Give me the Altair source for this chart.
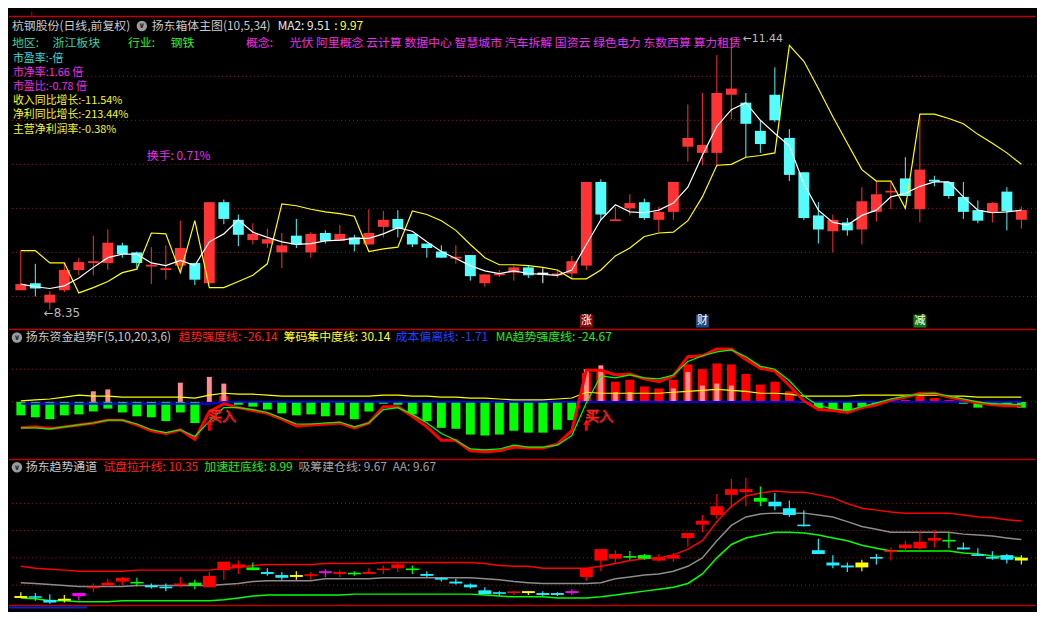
import altair as alt
import pandas as pd

FONT = "Noto Sans CJK SC"
W = 1036
H1, H2, H3 = 320, 127, 151
F1, F2, F3 = H1 / 331, H2 / 131, H3 / 157
STEP = 14.77
XDOM = [-0.474, -0.474 + W / STEP]

# ---------------- data : top panel (price) ----------------
idx = list(range(70))
top_open = [8.57, 8.65, 8.43, 8.57, 8.80, 8.88, 8.88, 9.08, 9.00, 8.84,
            8.80, 8.85, 8.88, 8.65, 9.57, 9.37, 9.14, 9.10, 9.00, 9.19,
            9.00, 9.22, 9.13, 9.17, 9.09, 9.29, 9.38, 9.21, 9.10, 9.01,
            8.93, 8.97, 8.65, 8.74, 8.77, 8.83, 8.76, 8.74, 8.76, 8.85,
            9.80, 9.36, 9.50, 9.57, 9.37, 9.46, 10.20, 10.13, 10.13, 10.79,
            10.70, 10.38, 10.79, 10.30, 9.91, 9.42, 9.24, 9.34, 9.26, 9.46,
            9.68, 9.84, 9.49, 9.82, 9.80, 9.63, 9.48, 9.45, 9.69, 9.37]
top_close = [8.64, 8.59, 8.52, 8.80, 8.89, 8.90, 9.11, 8.98, 8.88, 8.86,
             8.82, 9.05, 8.69, 9.57, 9.38, 9.20, 9.21, 9.15, 9.08, 9.09,
             9.21, 9.13, 9.21, 9.09, 9.22, 9.37, 9.27, 9.09, 9.05, 8.94,
             8.95, 8.73, 8.75, 8.76, 8.83, 8.74, 8.76, 8.76, 8.90, 9.80,
             9.43, 9.37, 9.56, 9.39, 9.46, 9.80, 10.30, 10.22, 10.81, 10.86,
             10.46, 10.23, 10.50, 9.88, 9.39, 9.26, 9.37, 9.25, 9.58, 9.66,
             9.70, 9.64, 9.94, 9.81, 9.64, 9.46, 9.36, 9.56, 9.47, 9.48]
top_high = [9.02, 8.87, 8.56, 8.87, 8.94, 9.19, 9.26, 9.11, 9.01, 9.06,
            9.08, 9.36, 8.88, 9.57, 9.60, 9.43, 9.33, 9.27, 9.22, 9.38,
            9.23, 9.25, 9.31, 9.20, 9.49, 9.47, 9.48, 9.21, 9.10, 9.08,
            9.08, 8.97, 8.75, 8.80, 8.85, 8.85, 8.82, 8.80, 8.96, 9.80,
            9.83, 9.52, 9.66, 9.61, 9.52, 9.80, 10.68, 10.81, 11.24, 11.44,
            10.81, 10.50, 11.10, 10.40, 9.91, 9.57, 9.43, 9.39, 9.74, 9.81,
            9.81, 10.08, 10.54, 9.87, 9.80, 9.80, 9.59, 9.57, 9.74, 9.52]
top_low = [8.57, 8.50, 8.35, 8.55, 8.74, 8.74, 8.80, 8.94, 8.82, 8.64,
           8.69, 8.80, 8.63, 8.65, 9.32, 9.07, 9.09, 9.05, 8.82, 9.05,
           8.94, 9.10, 9.13, 9.01, 9.09, 9.17, 9.17, 9.06, 8.94, 8.94,
           8.87, 8.68, 8.61, 8.72, 8.68, 8.71, 8.65, 8.71, 8.71, 8.80,
           9.37, 9.36, 9.42, 9.37, 9.23, 9.37, 10.03, 9.99, 9.99, 10.51,
           10.08, 10.13, 10.48, 9.81, 9.37, 9.10, 9.00, 9.19, 9.09, 9.35,
           9.49, 9.64, 9.34, 9.75, 9.61, 9.38, 9.33, 9.34, 9.25, 9.27]
top_ma = [8.64, 8.61, 8.59, 8.62, 8.71, 8.83, 8.94, 8.98, 8.98, 8.88,
          8.85, 8.91, 8.85, 9.12, 9.21, 9.37, 9.23, 9.17, 9.12, 9.09,
          9.10, 9.13, 9.14, 9.16, 9.16, 9.21, 9.28, 9.24, 9.12, 9.01,
          8.93, 8.85, 8.79, 8.76, 8.79, 8.76, 8.75, 8.74, 8.80, 9.09,
          9.37, 9.54, 9.46, 9.45, 9.48, 9.56, 9.74, 10.10, 10.43, 10.62,
          10.70, 10.50, 10.35, 10.21, 9.78, 9.48, 9.34, 9.31, 9.42, 9.48,
          9.63, 9.67, 9.75, 9.80, 9.80, 9.63, 9.48, 9.45, 9.46, 9.48]
top_box = [9.02, 9.02, 8.88, 8.88, 8.54, 8.60, 8.67, 8.77, 8.81, 9.22,
           9.21, 8.77, 9.36, 8.60, 8.60, 8.67, 8.74, 8.87, 9.55, 9.53,
           9.49, 9.46, 9.44, 9.41, 9.01, 9.04, 9.06, 9.47, 9.43, 9.36,
           9.25, 9.09, 8.94, 8.86, 8.86, 8.85, 8.83, 8.80, 8.70, 8.70,
           8.80, 8.96, 9.05, 9.18, 9.22, 9.23, 9.36, 9.63, 9.99, 10.00,
           10.08, 10.10, 10.13, 11.35, 11.17, 10.86, 10.54, 10.24, 9.94, 9.81,
           9.81, 9.50, 10.57, 10.57, 10.52, 10.46, 10.34, 10.24, 10.13, 10.00]
top_grid = [8.5, 9.0, 9.5, 10.0, 10.5, 11.0]
signal_idx = [39, 47, 62]
signal_txt = ["涨", "财", "减"]
signal_fill = ["#8A0A0A", "#1B4A80", "#0E7A12"]

# ---------------- data : middle panel (fund trend) ----------------
mid_hist = [-14, -16, -18, -14, -13, -10, -7, -11, -15, -16,
            -20, -11, -22, 0, 6, -3, -5, -8, -12, -14,
            -13, -15, -14, -18, -10, -2, -3, -13, -20, -27,
            -28, -34, -35, -34, -30, -32, -32, -29, -19, 30,
            33, 21, 23, 16, 14, 23, 39, 34, 40, 39,
            29, 18, 21, 11, -1, -7, -9, -10, -5, -3,
            1, 2, 7, 4, 2, -2, -6, -3, -3, -6]
mid_pink = [None, None, None, None, None, 11, 13, None, None, None,
            None, 20, None, 26, 19, None, None, None, None, None,
            None, None, None, None, None, None, None, None, None, None,
            None, None, None, None, None, None, None, None, None, 34,
            38, 10, 10, None, None, 14, 31, 17, 19, 17,
            None, None, None, None, None, None, None, None, None, None,
            None, None, None, None, None, None, None, None, None, None]
mid_trend = [-27, -26, -28, -26, -24, -22, -19, -19, -24, -30,
             -33, -29, -39, -10, -2, -6, -9, -12, -18, -25,
             -24, -23, -22, -27, -22, -5, -5, -15, -26, -40,
             -40, -51, -52, -51, -47, -48, -48, -44, -30, 33,
             33, 28, 29, 24, 21, 27, 47, 48, 55, 55,
             44, 35, 32, 17, 1, -8, -9, -11, -6, -3,
             2, 5, 9, 9, 5, 2, -1, -3, -4, -4]
mid_ma_trend = [-27, -27, -28, -26, -24, -22, -19, -19, -23, -29,
                -32, -29, -36, -20, -6, -6, -8, -11, -17, -23,
                -23, -22, -21, -26, -22, -8, -6, -13, -22, -33,
                -40, -49, -50, -49, -45, -47, -47, -45, -35, -1,
                27, 25, 28, 25, 24, 28, 42, 48, 52, 54,
                47, 37, 34, 22, 6, -4, -7, -9, -5, -1,
                3, 6, 8, 9, 6, 3, 0, -2, -2, -3]
mid_chip = [1, 2, 3, 5, 7, 6, 6, 5, 5, 5,
            5, 5, 4, 7, 9, 8, 8, 7, 6, 6,
            6, 6, 6, 6, 6, 7, 7, 6, 6, 5,
            5, 4, 4, 3, 2, 2, 2, 3, 4, 10,
            9, 9, 9, 9, 9, 10, 11, 12, 13, 12,
            11, 9, 9, 8, 6, 6, 6, 6, 7, 7,
            7, 7, 7, 7, 6, 6, 5, 5, 5, 5]
mid_cost = [-2] * 14 + [0] * 56
mid_grid = [0, 34]
buy_idx = [13, 39]

# ---------------- data : bottom panel (trend channel) ----------------
bot_open = [7.53, 7.58, 7.46, 7.43, 7.60, 7.90, 7.99, 8.13, 8.08, 7.99,
            7.93, 7.99, 7.99, 7.92, 8.55, 8.65, 8.55, 8.48, 8.37, 8.30,
            8.36, 8.44, 8.41, 8.41, 8.41, 8.57, 8.62, 8.57, 8.41, 8.24,
            8.13, 8.02, 7.81, 7.72, 7.73, 7.71, 7.71, 7.71, 7.71, 8.30,
            8.90, 8.97, 9.02, 8.97, 8.90, 8.97, 9.73, 10.22, 10.57, 11.31,
            11.41, 11.06, 11.06, 10.82, 10.20, 9.28, 8.83, 8.72, 8.65, 9.01,
            9.23, 9.35, 9.35, 9.63, 9.62, 9.38, 9.11, 9.03, 9.10, 8.90]
bot_close = [7.60, 7.55, 7.36, 7.50, 7.71, 7.93, 8.09, 8.27, 8.10, 7.92,
             7.90, 8.06, 8.09, 8.34, 8.86, 8.76, 8.65, 8.41, 8.27, 8.37,
             8.38, 8.51, 8.48, 8.44, 8.48, 8.59, 8.76, 8.59, 8.34, 8.22,
             8.06, 7.92, 7.67, 7.70, 7.75, 7.78, 7.64, 7.64, 7.78, 8.62,
             9.32, 9.14, 9.05, 9.10, 9.03, 9.10, 9.91, 10.36, 10.89, 11.52,
             11.52, 11.20, 10.89, 10.57, 10.18, 9.14, 8.72, 8.65, 8.83, 8.99,
             9.25, 9.49, 9.59, 9.73, 9.64, 9.31, 9.09, 8.97, 8.93, 9.00]
bot_high = [7.74, 7.71, 7.67, 7.64, 7.71, 8.06, 8.23, 8.30, 8.27, 8.06,
            8.06, 8.30, 8.20, 8.48, 8.86, 8.90, 8.83, 8.62, 8.48, 8.51,
            8.48, 8.58, 8.55, 8.51, 8.62, 8.72, 8.79, 8.72, 8.51, 8.30,
            8.23, 8.06, 7.92, 7.78, 7.78, 7.78, 7.78, 7.74, 7.85, 8.62,
            9.32, 9.28, 9.25, 9.14, 9.14, 9.18, 9.91, 10.57, 11.34, 11.90,
            11.94, 11.62, 11.38, 11.10, 10.75, 9.70, 9.10, 8.83, 8.93, 9.14,
            9.38, 9.63, 9.98, 10.01, 9.94, 9.56, 9.35, 9.24, 9.14, 9.10]
bot_low = [7.53, 7.43, 7.32, 7.36, 7.43, 7.74, 7.95, 7.99, 7.95, 7.88,
           7.78, 7.92, 7.85, 7.92, 8.20, 8.41, 8.55, 8.34, 8.20, 8.20,
           8.20, 8.30, 8.30, 8.34, 8.41, 8.41, 8.48, 8.41, 8.30, 8.13,
           8.02, 7.88, 7.67, 7.60, 7.64, 7.64, 7.60, 7.60, 7.64, 8.16,
           8.51, 8.79, 8.93, 8.93, 8.86, 8.86, 9.42, 9.94, 10.43, 10.85,
           10.89, 10.89, 10.75, 10.50, 10.15, 9.14, 8.62, 8.48, 8.51, 8.76,
           8.90, 9.24, 9.31, 9.38, 9.35, 9.31, 9.07, 8.93, 8.79, 8.76]
bot_kind = list("YCCYMRRRGCCRGRRRGCCYRMRGRRRGCCCCCCRYCCMRRRGGRRRRRRRGCCCCCCYCRRRRGCCCCY")
bot_up = [8.69, 8.62, 8.58, 8.55, 8.51, 8.51, 8.51, 8.51, 8.55, 8.55,
          8.55, 8.55, 8.55, 8.55, 8.62, 8.65, 8.72, 8.76, 8.76, 8.76,
          8.76, 8.79, 8.79, 8.79, 8.79, 8.83, 8.83, 8.83, 8.83, 8.83,
          8.83, 8.83, 8.79, 8.72, 8.69, 8.69, 8.62, 8.62, 8.62, 8.62,
          8.69, 8.79, 8.90, 8.97, 9.00, 9.11, 9.32, 9.63, 10.33, 10.89,
          11.27, 11.38, 11.45, 11.41, 11.41, 11.31, 11.20, 10.99, 10.82, 10.75,
          10.68, 10.64, 10.64, 10.64, 10.64, 10.57, 10.50, 10.47, 10.40, 10.35]
bot_mid = [8.09, 8.06, 8.02, 7.99, 7.95, 7.95, 7.95, 7.95, 7.99, 7.99,
           7.99, 7.99, 7.99, 7.99, 8.02, 8.06, 8.13, 8.16, 8.16, 8.16,
           8.16, 8.23, 8.23, 8.23, 8.23, 8.27, 8.27, 8.27, 8.27, 8.27,
           8.27, 8.27, 8.23, 8.20, 8.13, 8.09, 8.06, 8.06, 8.06, 8.06,
           8.09, 8.23, 8.30, 8.37, 8.41, 8.51, 8.69, 9.00, 9.63, 10.19,
           10.50, 10.61, 10.64, 10.64, 10.64, 10.57, 10.50, 10.33, 10.15, 10.05,
           9.94, 9.94, 9.94, 9.94, 9.94, 9.87, 9.84, 9.80, 9.73, 9.67]
bot_dn = [7.53, 7.50, 7.43, 7.43, 7.39, 7.39, 7.39, 7.43, 7.43, 7.43,
          7.43, 7.43, 7.43, 7.43, 7.46, 7.53, 7.60, 7.64, 7.64, 7.64,
          7.64, 7.64, 7.64, 7.67, 7.67, 7.67, 7.67, 7.67, 7.67, 7.67,
          7.67, 7.67, 7.64, 7.60, 7.57, 7.57, 7.57, 7.53, 7.53, 7.53,
          7.57, 7.64, 7.71, 7.78, 7.85, 7.92, 8.06, 8.41, 9.00, 9.49,
          9.73, 9.84, 9.94, 9.94, 9.91, 9.84, 9.73, 9.63, 9.46, 9.35,
          9.25, 9.25, 9.25, 9.25, 9.25, 9.18, 9.14, 9.07, 9.04, 9.00]
bot_grid = [8.0, 9.0, 10.0, 11.0]

# ---------------- helpers ----------------
ONE = pd.DataFrame({"a": [0]})
GRID_COL = "#9A1A1A"
BORDER = "#C00000"


def xenc():
    return alt.X("i:Q", scale=alt.Scale(domain=XDOM, nice=False, zero=False), axis=None)


def yenc(field, dom):
    return alt.Y(field, type="quantitative",
                 scale=alt.Scale(domain=dom, nice=False, zero=False), axis=None)


def y2enc(field):
    return alt.Y2(field)


def label(text, x, y, color, size=12, align="left", font=FONT, weight="normal"):
    return alt.Chart(ONE).mark_text(
        text=text, align=align, baseline="middle", font=font, fontSize=size,
        color=color, fontWeight=weight
    ).encode(x=alt.value(x), y=alt.value(y))


def hline(y, x1, x2, color, width=1.0, dash=None):
    kw = {"color": color, "strokeWidth": width}
    if dash:
        kw["strokeDash"] = dash
    return alt.Chart(ONE).mark_rule(**kw).encode(
        x=alt.value(x1), x2=alt.value(x2), y=alt.value(y))


def icon(x, y):
    c = alt.Chart(ONE).mark_point(filled=True, shape="circle", size=110,
                                  color="#9C9C9C", opacity=1).encode(
        x=alt.value(x), y=alt.value(y))
    v = label("∨", x, y + 0.5, "#2A2A2A", size=8, align="center",
              font="DejaVu Sans", weight="bold")
    return [c, v]


def bodies(o, c, minh):
    lo, hi = [], []
    for a, b in zip(o, c):
        l, h = min(a, b), max(a, b)
        if h - l < minh:
            m = (h + l) / 2
            l, h = m - minh / 2, m + minh / 2
        lo.append(l)
        hi.append(h)
    return lo, hi


# ---------------- top panel ----------------
TDOM = [8.132, 11.734]
tdf = pd.DataFrame({"i": idx, "o": top_open, "c": top_close,
                    "h": top_high, "l": top_low, "ma": top_ma, "box": top_box})
tdf["col"] = ["#FF3333" if c > o else ("#54FCFC" if c < o else "#FFFFFF")
              for o, c in zip(top_open, top_close)]
tdf["b0"], tdf["b1"] = bodies(top_open, top_close, 0.02)

tgrid = alt.Chart(pd.DataFrame({"p": top_grid})).mark_rule(
    color=GRID_COL, strokeDash=[1, 3], strokeWidth=1).encode(y=yenc("p", TDOM))
twick = alt.Chart(tdf).mark_rule(strokeWidth=1).encode(
    x=xenc(), y=yenc("l", TDOM), y2=y2enc("h"), color=alt.Color("col:N", scale=None))
tbody = alt.Chart(tdf).mark_bar(width=11).encode(
    x=xenc(), y=yenc("b0", TDOM), y2=y2enc("b1"), color=alt.Color("col:N", scale=None))
tbox = alt.Chart(tdf).mark_line(color="#FFFF00", strokeWidth=1.2).encode(
    x=xenc(), y=yenc("box", TDOM))
tma = alt.Chart(tdf).mark_line(color="#FFFFFF", strokeWidth=1.2).encode(
    x=xenc(), y=yenc("ma", TDOM))

sdf = pd.DataFrame({"i": signal_idx, "t": signal_txt, "f": signal_fill})
ssq = alt.Chart(sdf).mark_square(size=169, filled=True, opacity=1).encode(
    x=xenc(), y=alt.value(323 * F1), color=alt.Color("f:N", scale=None))
stx = alt.Chart(sdf).mark_text(font=FONT, fontSize=11, color="#FFFFFF",
                               baseline="middle", align="center").encode(
    x=xenc(), y=alt.value(323 * F1), text="t:N")

concepts = "光伏 阿里概念 云计算 数据中心 智慧城市 汽车拆解 国资云 绿色电力 东数西算 算力租赁"
MAG = "#E830E8"
YEL = "#F4F430"
row2_y = 32.0
info_y0 = 48.0
info_dy = 14.2
top_texts = [
    label("杭钢股份(日线,前复权)", 3, 15 * F1, "#C8C8C8"),
    label("扬东箱体主图(10,5,34)", 144, 15 * F1, "#C8C8C8"),
    label("MA2: 9.51", 271, 15 * F1, "#E6E6E6"),
    label(": 9.97", 328, 15 * F1, "#FFFF33"),
    label("地区:", 3, row2_y, "#3CCFA0"),
    label("浙江板块", 44, row2_y, "#3CCFA0"),
    label("行业:", 120, row2_y, "#33EE33"),
    label("钢铁", 163, row2_y, "#33EE33"),
    label("概念:", 239, row2_y, MAG),
    label(concepts, 283, row2_y, MAG),
    label("市盈率:-倍", 4, info_y0, "#33DDDD", size=11),
    label("市净率:1.66 倍", 4, info_y0 + info_dy, MAG, size=11),
    label("市盈比:-0.78 倍", 4, info_y0 + 2 * info_dy, MAG, size=11),
    label("收入同比增长:-11.54%", 4, info_y0 + 3 * info_dy, YEL, size=11),
    label("净利同比增长:-213.44%", 4, info_y0 + 4 * info_dy, YEL, size=11),
    label("主营净利润率:-0.38%", 4, info_y0 + 5 * info_dy, YEL, size=11),
    label("换手: 0.71%", 139, 151 * F1, MAG),
    label("←11.44", 740, 29 * F1, "#BBBBBB", font="DejaVu Sans", size=11),
    label("←8.35", 35, 314 * F1, "#BBBBBB", font="DejaVu Sans", size=12),
]
top_frame = [
    hline(5 * F1, 0, W, BORDER, 1.5),
    alt.Chart(ONE).mark_rule(color=BORDER, strokeWidth=1).encode(
        x=alt.value(23), y=alt.value(0), y2=alt.value(5 * F1)),
]

top = alt.layer(tgrid, *top_frame, twick, tbody, tbox, tma, ssq, stx,
                *icon(134, 15 * F1), *top_texts).properties(width=W, height=H1)

# ---------------- middle panel ----------------
MDOM = [-55, 76]
mdf = pd.DataFrame({"i": idx, "h": mid_hist, "z": [0] * 70, "tr": mid_trend,
                    "mt": mid_ma_trend, "ch": mid_chip, "co": mid_cost})
mdf["col"] = ["#FF0000" if v > 0 else "#00FF00" for v in mid_hist]
mbars = mdf[mdf["h"] != 0]
pdf = pd.DataFrame({"i": idx, "p": mid_pink, "z": [0] * 70}).dropna()

mgrid = alt.Chart(pd.DataFrame({"v": mid_grid})).mark_rule(
    color=GRID_COL, strokeDash=[1, 3], strokeWidth=1).encode(y=yenc("v", MDOM))
mbar = alt.Chart(mbars).mark_bar(width=9).encode(
    x=xenc(), y=yenc("z", MDOM), y2=y2enc("h"), color=alt.Color("col:N", scale=None))
mpink = alt.Chart(pdf).mark_bar(width=5, color="#FF8C8C").encode(
    x=xenc(), y=yenc("z", MDOM), y2=y2enc("p"))
mchip = alt.Chart(mdf).mark_line(color="#FFFF00", strokeWidth=1.2).encode(
    x=xenc(), y=yenc("ch", MDOM))
mcost = alt.Chart(mdf).mark_line(color="#0000FF", strokeWidth=2).encode(
    x=xenc(), y=yenc("co", MDOM))
mtr = alt.Chart(mdf).mark_line(color="#FF0000", strokeWidth=3).encode(
    x=xenc(), y=yenc("tr", MDOM))
mmt = alt.Chart(mdf).mark_line(color="#00FF00", strokeWidth=1.2).encode(
    x=xenc(), y=yenc("mt", MDOM))

bdf = pd.DataFrame({"i": buy_idx})
barrow_head = alt.Chart(bdf).mark_point(shape="triangle-up", filled=True, size=45,
                                        color="#FF0000", opacity=1).encode(
    x=xenc(), y=alt.value((428 - 331) * F2))
barrow_stem = alt.Chart(bdf).mark_rule(color="#FF0000", strokeWidth=3).encode(
    x=xenc(), y=alt.value((429 - 331) * F2), y2=alt.value((437 - 331) * F2))
btxt = alt.Chart(bdf).mark_text(text="买入", font=FONT, fontSize=14, dx=13,
                                baseline="middle", align="center",
                                fill="#000000", stroke="#FF2020", strokeWidth=0.8).encode(
    x=xenc(), y=alt.value((423 - 331) * F2))

mid_texts = [
    label("扬东资金趋势F(5,10,20,3,6)", 17, 9 * F2, "#C8C8C8"),
    label("趋势强度线: -26.14", 171, 9 * F2, "#FF2020"),
    label("筹码集中度线: 30.14", 277, 9 * F2, "#FFFF22"),
    label("成本偏离线: -1.71", 390, 9 * F2, "#2040FF"),
    label("MA趋势强度线: -24.67", 491, 9 * F2, "#22EE22"),
]
mid = alt.layer(hline(0.75, 0, W, BORDER, 1.5), mgrid, mbar, mpink, mchip, mcost,
                mtr, mmt, barrow_stem, barrow_head, btxt,
                *icon(8, 9 * F2), *mid_texts).properties(width=W, height=H2)

# ---------------- bottom panel ----------------
BDOM = [7.147, 12.636]
palette = {"R": "#FF0000", "C": "#22EEFF", "Y": "#FFFF00", "M": "#FF00FF", "G": "#00FF00"}
bt = pd.DataFrame({"i": idx, "o": bot_open, "c": bot_close, "h": bot_high,
                   "l": bot_low, "up": bot_up, "md": bot_mid, "dn": bot_dn})
bt["col"] = [palette[k] for k in bot_kind]
bt["b0"], bt["b1"] = bodies(bot_open, bot_close, 0.06)

bgrid = alt.Chart(pd.DataFrame({"p": bot_grid})).mark_rule(
    color=GRID_COL, strokeDash=[1, 3], strokeWidth=1).encode(y=yenc("p", BDOM))
bwick = alt.Chart(bt).mark_rule(strokeWidth=1.2).encode(
    x=xenc(), y=yenc("l", BDOM), y2=y2enc("h"), color=alt.Color("col:N", scale=None))
bbody = alt.Chart(bt).mark_bar(width=13).encode(
    x=xenc(), y=yenc("b0", BDOM), y2=y2enc("b1"), color=alt.Color("col:N", scale=None))
bup = alt.Chart(bt).mark_line(color="#FF0000", strokeWidth=1.5).encode(
    x=xenc(), y=yenc("up", BDOM))
bmd = alt.Chart(bt).mark_line(color="#8C8C8C", strokeWidth=1.5).encode(
    x=xenc(), y=yenc("md", BDOM))
bdn = alt.Chart(bt).mark_line(color="#00FF00", strokeWidth=1.5).encode(
    x=xenc(), y=yenc("dn", BDOM))

bot_texts = [
    label("扬东趋势通道", 17, 9 * F3, "#C8C8C8"),
    label("试盘拉升线: 10.35", 95, 9 * F3, "#FF2020"),
    label("加速赶底线: 8.99", 197, 9 * F3, "#22EE22"),
    label("吸筹建仓线: 9.67", 292, 9 * F3, "#A0A0A0"),
    label("AA: 9.67", 387, 9 * F3, "#A0A0A0"),
]
bot = alt.layer(hline(0.75, 0, W, BORDER, 1.5), bgrid,
                hline((616 - 462) * F3, 0, W, BORDER, 1.5),
                hline((618 - 462) * F3, 0, 79, "#1020C0", 2),
                bup, bmd, bdn, bwick, bbody,
                *icon(8, 9 * F3), *bot_texts).properties(width=W, height=H3)

chart = alt.vconcat(top, mid, bot, spacing=0).properties(
    padding=0, background="#000000"
).configure_view(stroke=None).configure_concat(spacing=0)

chart.save("out.html", embed_options={"renderer": "svg", "actions": False})
